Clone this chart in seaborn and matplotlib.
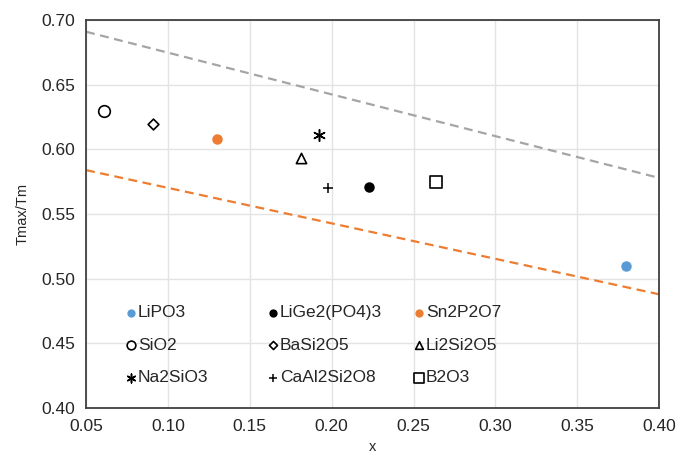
import numpy as np
import pandas as pd
import matplotlib
matplotlib.use("Agg")
import matplotlib.pyplot as plt
import seaborn as sns

# values
names = ['LiPO3', 'LiGe2(PO4)3', 'Sn2P2O7', 'SiO2', 'BaSi2O5', 'Li2Si2O5',
         'Na2SiO3', 'CaAl2Si2O8', 'B2O3']
x_vals = [0.380, 0.223, 0.130, 0.061, 0.091, 0.181, 0.192, 0.198, 0.264]
y_vals = [0.510, 0.571, 0.608, 0.630, 0.620, 0.593, 0.611, 0.570, 0.575]

upper_x = [0.05, 0.40]
upper_y = [0.691, 0.578]
lower_x = [0.05, 0.40]
lower_y = [0.584, 0.488]

blue = '#5B9BD5'
orange = '#ED7D31'
gray = '#A5A5A5'

# marker, face, edge, size
styles = {
    'LiPO3': ('o', blue, blue, 40),
    'LiGe2(PO4)3': ('o', 'black', 'black', 40),
    'Sn2P2O7': ('o', orange, orange, 40),
    'SiO2': ('o', 'white', 'black', 70),
    'BaSi2O5': ('D', 'white', 'black', 30),
    'Li2Si2O5': ('^', 'white', 'black', 55),
    'Na2SiO3': ((6, 2, 0), 'black', 'black', 70),
    'CaAl2Si2O8': ('+', 'black', 'black', 60),
    'B2O3': ('s', 'white', 'black', 80),
}

sns.set_style("white")
plt.rcParams['font.family'] = ['Liberation Sans', 'DejaVu Sans']

fig = plt.figure(figsize=(6.83, 4.57), dpi=100)
ax = fig.add_axes([0.126, 0.107, 0.839, 0.849])

sns.lineplot(x=upper_x, y=upper_y, ax=ax, color=gray, linestyle=(0, (4, 2.5)), lw=1.6)
sns.lineplot(x=lower_x, y=lower_y, ax=ax, color=orange, linestyle=(0, (4, 2.5)), lw=1.6)

df = pd.DataFrame({'name': names, 'x': x_vals, 'y': y_vals})
for nm in names:
    mk, fc, ec, s = styles[nm]
    sub = df[df.name == nm]
    if mk == '+' or isinstance(mk, tuple):
        sns.scatterplot(data=sub, x='x', y='y', ax=ax, marker=mk, color=ec, s=s,
                        linewidth=1.1, label=nm)
    else:
        sns.scatterplot(data=sub, x='x', y='y', ax=ax, marker=mk, facecolor=fc,
                        edgecolor=ec, s=s, linewidth=1.2, label=nm)

ax.set_xlim(0.05, 0.40)
ax.set_ylim(0.40, 0.70)
ax.set_xticks(np.arange(0.05, 0.401, 0.05))
ax.set_yticks(np.arange(0.40, 0.701, 0.05))
ax.set_xticklabels(['%.2f' % v for v in np.arange(0.05, 0.401, 0.05)])
ax.set_yticklabels(['%.2f' % v for v in np.arange(0.40, 0.701, 0.05)])
ax.tick_params(labelsize=12.5, length=0, pad=8)
ax.grid(True, color='#E3E3E3', lw=1)
ax.set_axisbelow(True)
for sp in ax.spines.values():
    sp.set_color('#404040')
    sp.set_linewidth(1.3)
ax.set_xlabel('x', fontsize=10.5, labelpad=4)
ax.set_ylabel('Tmax/Tm', fontsize=10.5, labelpad=8)

h, l = ax.get_legend_handles_labels()
hd = dict(zip(l, h))
ax.get_legend().remove()
# Excel-style legend: three fixed-width columns
columns = [['LiPO3', 'SiO2', 'Na2SiO3'],
           ['LiGe2(PO4)3', 'BaSi2O5', 'CaAl2Si2O8'],
           ['Sn2P2O7', 'Li2Si2O5', 'B2O3']]
col_x = [0.069, 0.317, 0.572]
for i, (cx, col) in enumerate(zip(col_x, columns)):
    leg = ax.legend([hd[k] for k in col], col, frameon=False, loc='upper left',
                    bbox_to_anchor=(cx, 0.265), borderpad=0, borderaxespad=0,
                    fontsize=12.5, handlelength=0.6, handletextpad=0.1,
                    labelspacing=1.0, markerscale=0.75)
    if i < len(columns) - 1:
        ax.add_artist(leg)

fig.savefig('out.png', dpi=100)
